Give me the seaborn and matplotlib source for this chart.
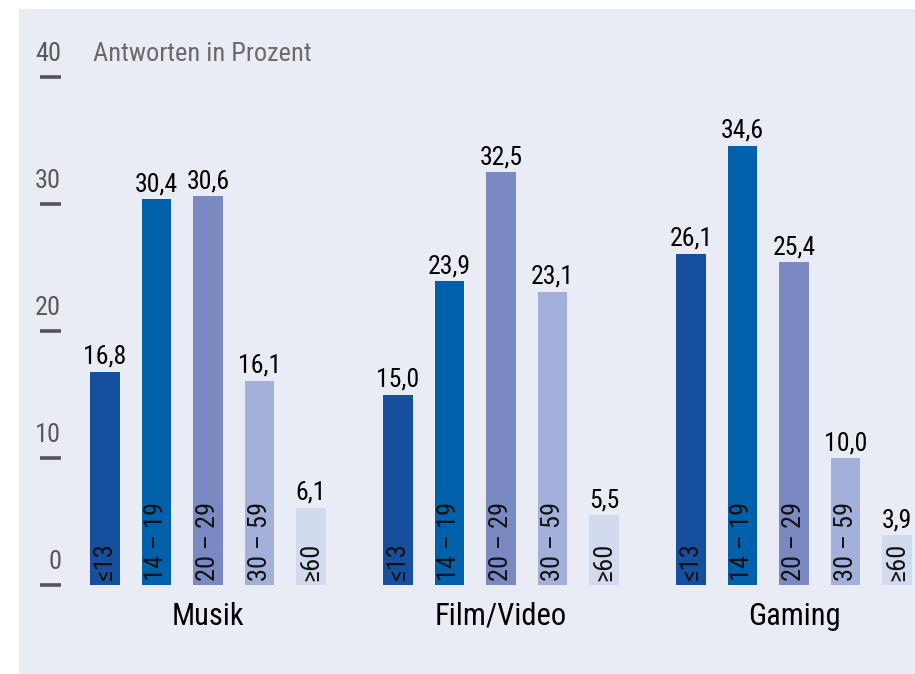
import matplotlib
matplotlib.use("Agg")
import matplotlib.pyplot as plt
import matplotlib.transforms as mtransforms
from matplotlib.patches import Rectangle
from matplotlib.lines import Line2D
import seaborn as sns
import pandas as pd

categories = ["Musik", "Film/Video", "Gaming"]
age_groups = ["≤13", "14 – 19", "20 – 29", "30 – 59", "≥60"]
musik = [16.8, 30.4, 30.6, 16.1, 6.1]
film = [15.0, 23.9, 32.5, 23.1, 5.5]
gaming = [26.1, 34.6, 25.4, 10.0, 3.9]
y_ticks = [0, 10, 20, 30, 40]
y_title = "Antworten in Prozent"
colors = ["#154f9e", "#0061aa", "#7a89c2", "#a3b0da", "#d2daee"]

rows = []
for cat, vals in zip(categories, [musik, film, gaming]):
    for age, v in zip(age_groups, vals):
        rows.append({"Kategorie": cat, "Alter": age, "Wert": v})
df = pd.DataFrame(rows)

sns.set_theme(style="white")
FONT = ["Roboto Condensed", "DejaVu Sans"]
plt.rcParams["font.family"] = FONT

W, H = 915, 674
fig = plt.figure(figsize=(W / 100, H / 100), dpi=100)
fig.patch.set_facecolor("white")
fig.patches.append(Rectangle((19 / W, 0), 1 - 19 / W, 1 - 9 / H, transform=fig.transFigure,
                             facecolor="#e9ecf5", edgecolor="none", zorder=-10))

ax_left, ax_right = 70, 915
ax_top, ax_bottom = 77, 585
ax = fig.add_axes([ax_left / W, (H - ax_bottom) / H, (ax_right - ax_left) / W, (ax_bottom - ax_top) / H])
ax.set_facecolor("none")

sns.barplot(data=df, x="Kategorie", y="Wert", hue="Alter", hue_order=age_groups,
            palette=colors, saturation=1, width=0.879, gap=0.42, legend=False,
            linewidth=0, edgecolor="none", ax=ax)

ax.set_ylim(0, 40)
ax.set_xlim((ax_left - 208) / 293, (ax_right - 208) / 293)
for s in ax.spines.values():
    s.set_visible(False)
ax.set_xlabel("")
ax.set_ylabel("")
ax.set_yticks([])
ax.tick_params(axis="x", length=0, pad=12, labelsize=22, labelcolor="black")
for lbl in ax.get_xticklabels():
    lbl.set_family(FONT)

for cont, age in zip(ax.containers, age_groups):
    labels = [f"{b.get_height():.1f}".replace(".", ",") for b in cont]
    ax.bar_label(cont, labels=labels, padding=2, fontsize=18.5, color="black", family=FONT)
    for b in cont:
        xc = b.get_x() + b.get_width() / 2
        ax.annotate(age, xy=(xc, 0), xytext=(0, 3), textcoords="offset points",
                    rotation=90, ha="center", va="bottom", fontsize=19,
                    color="#111111", family=FONT)

trans = mtransforms.blended_transform_factory(fig.transFigure, ax.transData)
for t in y_ticks:
    fig.add_artist(Line2D([40 / W, 61 / W], [t, t], transform=trans, color="#555555",
                          linewidth=2.6, solid_capstyle="butt"))
    ax.annotate(str(t), xy=(61 / W, t), xycoords=trans, xytext=(0, 8), textcoords="offset points",
                ha="right", va="bottom", fontsize=19, color="#5a5a5a", family=FONT,
                annotation_clip=False)

ax.annotate(y_title, xy=(93 / W, y_ticks[-1]), xycoords=trans, xytext=(0, 8),
            textcoords="offset points", ha="left", va="bottom", fontsize=19,
            color="#6a6a6a", family=FONT, annotation_clip=False)

fig.savefig("out.png", dpi=100)
